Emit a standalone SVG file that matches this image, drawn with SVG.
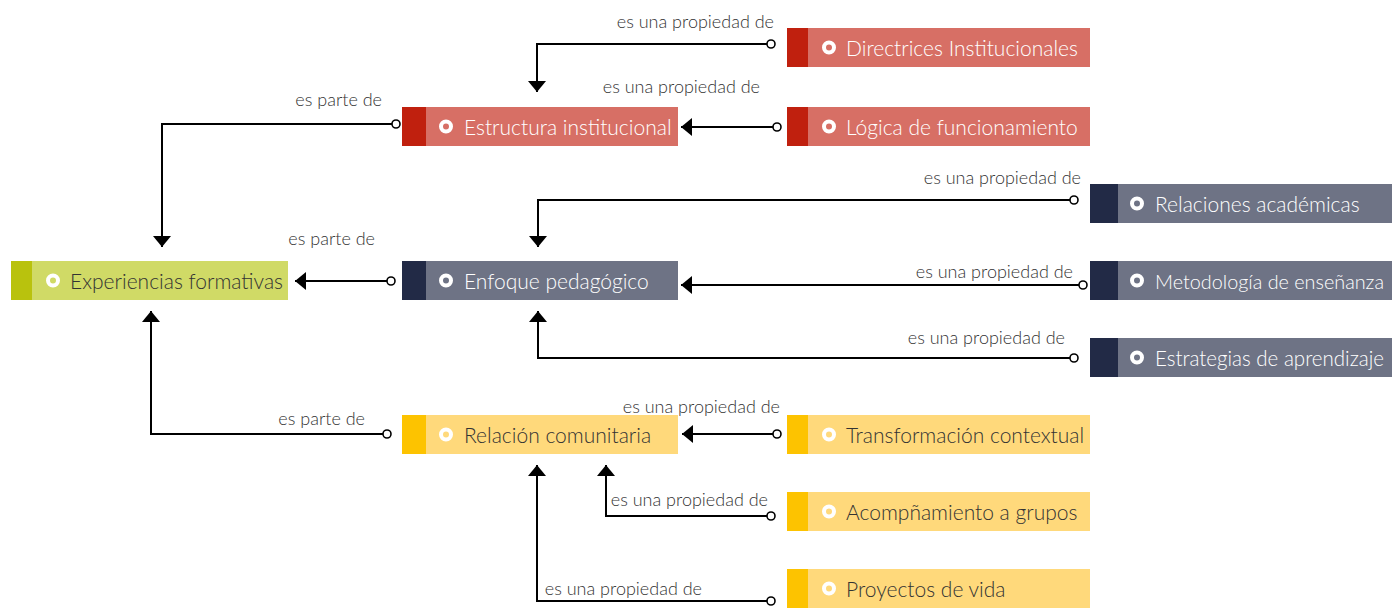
<svg xmlns="http://www.w3.org/2000/svg" width="1392" height="612" viewBox="0 0 1392 612">
<style>
.nt{font-family:Lato,"Liberation Sans",sans-serif;font-weight:300;font-size:21px}
.lt{font-family:Lato,"Liberation Sans",sans-serif;font-weight:300;font-size:18px;fill:#333;text-anchor:end}
.red .m{fill:#d76f65}.red .b{fill:#c0200e}.red text{fill:#fff}.red .ic{stroke:#fff;fill:#d76f65}
.nav .m{fill:#6e7385}.nav .b{fill:#222a46}.nav text{fill:#fff}.nav .ic{stroke:#fff;fill:#6e7385}
.yel .m{fill:#ffd97b}.yel .b{fill:#fdc300}.yel text{fill:#333}.yel .ic{stroke:#fff;fill:#ffd97b}
.grn .m{fill:#d0da66}.grn .b{fill:#b9c20d}.grn text{fill:#333}.grn .ic{stroke:#fff;fill:#d0da66}
.ic{stroke-width:4}
.c{fill:none;stroke:#000;stroke-width:2}
.e{fill:#fff;stroke:#000;stroke-width:1.6}
</style>
<defs>
<marker id="ah" markerWidth="11" markerHeight="18" refX="11" refY="9" orient="auto" markerUnits="userSpaceOnUse" viewBox="0 0 11 18">
<path d="M0,0 L11,9 L0,18 Z" fill="#000"/>
</marker>
</defs>
<g id="connectors">
<path class="c" d="M771,44 H537 V92" marker-end="url(#ah)"/><circle class="e" cx="771" cy="44" r="4"/>
<text class="lt" x="774" y="28">es una propiedad de</text>
<path class="c" d="M777,127 H681" marker-end="url(#ah)"/><circle class="e" cx="777" cy="127" r="4"/>
<text class="lt" x="760" y="93">es una propiedad de</text>
<path class="c" d="M396,124 H162 V247" marker-end="url(#ah)"/><circle class="e" cx="396" cy="124" r="4"/>
<text class="lt" x="382" y="106">es parte de</text>
<path class="c" d="M1074,200 H538 V247" marker-end="url(#ah)"/><circle class="e" cx="1074" cy="200" r="4"/>
<text class="lt" x="1081" y="184">es una propiedad de</text>
<path class="c" d="M1083,285 H681" marker-end="url(#ah)"/><circle class="e" cx="1083" cy="285" r="4"/>
<text class="lt" x="1073" y="278">es una propiedad de</text>
<path class="c" d="M1074,358 H538 V311" marker-end="url(#ah)"/><circle class="e" cx="1074" cy="358" r="4"/>
<text class="lt" x="1065" y="344">es una propiedad de</text>
<path class="c" d="M391,281 H295" marker-end="url(#ah)"/><circle class="e" cx="391" cy="281" r="4"/>
<text class="lt" x="375" y="245">es parte de</text>
<path class="c" d="M387,434 H151 V311" marker-end="url(#ah)"/><circle class="e" cx="387" cy="434" r="4"/>
<text class="lt" x="365" y="425">es parte de</text>
<path class="c" d="M777,434 H682" marker-end="url(#ah)"/><circle class="e" cx="777" cy="434" r="4"/>
<text class="lt" x="780" y="413">es una propiedad de</text>
<path class="c" d="M771,516 H606 V465" marker-end="url(#ah)"/><circle class="e" cx="771" cy="516" r="4"/>
<text class="lt" x="768" y="506">es una propiedad de</text>
<path class="c" d="M771,601 H537 V465" marker-end="url(#ah)"/><circle class="e" cx="771" cy="601" r="4"/>
<text class="lt" x="702" y="595">es una propiedad de</text>
</g>
<g id="directrices" class="red">
<rect class="m" x="787" y="28" width="303" height="39"/><rect class="b" x="787" y="28" width="21" height="39"/>
<circle class="ic" cx="829" cy="47.5" r="5"/><text class="nt" x="846" y="55.5">Directrices Institucionales</text>
</g>
<g id="logica" class="red">
<rect class="m" x="787" y="107" width="303" height="39"/><rect class="b" x="787" y="107" width="21" height="39"/>
<circle class="ic" cx="829" cy="126.5" r="5"/><text class="nt" x="846" y="134.5">Lógica de funcionamiento</text>
</g>
<g id="estructura" class="red">
<rect class="m" x="402" y="107" width="276" height="39"/><rect class="b" x="402" y="107" width="24" height="39"/>
<circle class="ic" cx="446" cy="126.5" r="5"/><text class="nt" x="464" y="134.5">Estructura institucional</text>
</g>
<g id="experiencias" class="grn">
<rect class="m" x="11" y="261" width="277" height="39"/><rect class="b" x="11" y="261" width="21" height="39"/>
<circle class="ic" cx="53" cy="280.5" r="5"/><text class="nt" x="70" y="288.5">Experiencias formativas</text>
</g>
<g id="enfoque" class="nav">
<rect class="m" x="402" y="261" width="276" height="39"/><rect class="b" x="402" y="261" width="24" height="39"/>
<circle class="ic" cx="446" cy="280.5" r="5"/><text class="nt" x="464" y="288.5">Enfoque pedagógico</text>
</g>
<g id="relaciones" class="nav">
<rect class="m" x="1090" y="184" width="302" height="39"/><rect class="b" x="1090" y="184" width="28" height="39"/>
<circle class="ic" cx="1137" cy="203.5" r="5"/><text class="nt" x="1155" y="211.5">Relaciones académicas</text>
</g>
<g id="metodologia" class="nav">
<rect class="m" x="1090" y="261" width="302" height="39"/><rect class="b" x="1090" y="261" width="28" height="39"/>
<circle class="ic" cx="1137" cy="280.5" r="5"/><text class="nt" x="1155" y="288.5" style="font-size:20px" textLength="229" lengthAdjust="spacingAndGlyphs">Metodología de enseñanza</text>
</g>
<g id="estrategias" class="nav">
<rect class="m" x="1090" y="338" width="302" height="39"/><rect class="b" x="1090" y="338" width="28" height="39"/>
<circle class="ic" cx="1137" cy="357.5" r="5"/><text class="nt" x="1155" y="365.5" textLength="229" lengthAdjust="spacingAndGlyphs">Estrategias de aprendizaje</text>
</g>
<g id="relacion" class="yel">
<rect class="m" x="402" y="415" width="276" height="39"/><rect class="b" x="402" y="415" width="24" height="39"/>
<circle class="ic" cx="446" cy="434.5" r="5"/><text class="nt" x="464" y="442.5">Relación comunitaria</text>
</g>
<g id="transformacion" class="yel">
<rect class="m" x="787" y="415" width="303" height="39"/><rect class="b" x="787" y="415" width="21" height="39"/>
<circle class="ic" cx="829" cy="434.5" r="5"/><text class="nt" x="846" y="442.5">Transformación contextual</text>
</g>
<g id="acompanamiento" class="yel">
<rect class="m" x="787" y="492" width="303" height="39"/><rect class="b" x="787" y="492" width="21" height="39"/>
<circle class="ic" cx="829" cy="511.5" r="5"/><text class="nt" x="846" y="519.5">Acompñamiento a grupos</text>
</g>
<g id="proyectos" class="yel">
<rect class="m" x="787" y="569" width="303" height="39"/><rect class="b" x="787" y="569" width="21" height="39"/>
<circle class="ic" cx="829" cy="588.5" r="5"/><text class="nt" x="846" y="596.5">Proyectos de vida</text>
</g>
</svg>
